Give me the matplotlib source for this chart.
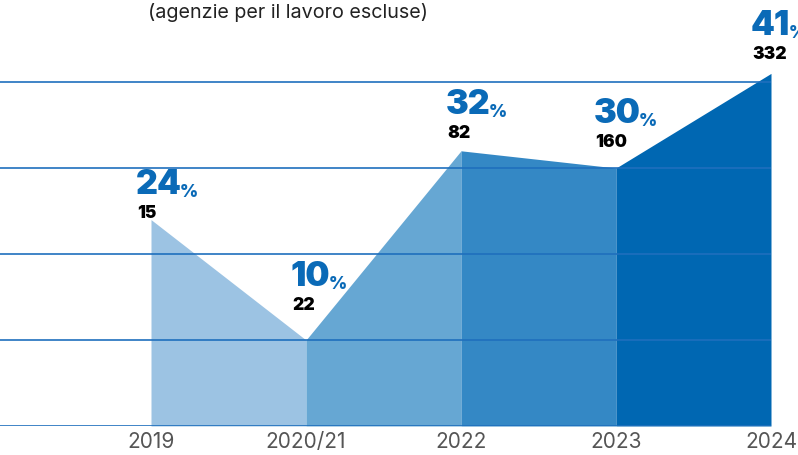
import matplotlib
matplotlib.use("Agg")
import matplotlib.pyplot as plt

# Data
years = ["2019", "2020/21", "2022", "2023", "2024"]
pct = [24, 10, 32, 30, 41]
counts = [15, 22, 82, 160, 332]
grid_levels = [0, 10, 20, 30, 40]

# Style / layout (not data)
seg_colors = ["#9cc3e3", "#66a7d3", "#3488c5", "#0067b2"]
blue_txt = "#0a6ab7"
grid_color = "#1f6fbd"
label_dx = [-14, -14, -14, -21, -19]   # px offset of labels from point
label_dy = [2, 30, 13, 21, 14]         # px baseline of count above point

W, H = 798, 455
fig = plt.figure(figsize=(W / 100, H / 100), dpi=100)
ax = fig.add_axes([0, 29 / H, 1, 426 / H])
px_per_unit = 155.0
x0 = -151 / px_per_unit
ax.set_xlim(x0, x0 + W / px_per_unit)
ax.set_ylim(0, 426 / 8.6)

xs = list(range(len(years)))
for i in range(len(xs) - 1):
    ax.fill_between([xs[i], xs[i + 1]], [pct[i], pct[i + 1]], 0,
                    color=seg_colors[i], linewidth=0, zorder=1)

ax.hlines(grid_levels, x0, xs[-1], color=grid_color, linewidth=1.2, zorder=2)

for s in ax.spines.values():
    s.set_visible(False)
ax.set_yticks([])
ax.set_xticks(xs)
ax.set_xticklabels(years, fontsize=15, color="#555555", family="Inter")
ax.tick_params(axis="x", length=0, pad=4)

p2pt = 72 / 100
for i, x in enumerate(xs):
    dx = label_dx[i] * p2pt
    dy = label_dy[i] * p2pt
    ax.annotate(str(counts[i]), (x, pct[i]), xytext=(dx, dy),
                textcoords="offset points", ha="left", va="baseline",
                fontsize=12.5, fontweight="black", family="Inter", color="black",
                zorder=5)
    t = ax.annotate(str(pct[i]), (x, pct[i]), xytext=(dx - 1, dy + 24 * p2pt),
                    textcoords="offset points", ha="left", va="baseline",
                    fontsize=24.5, fontweight="black", family="Inter", color=blue_txt,
                    zorder=5)
    ax.annotate("%", xy=(1, 0), xycoords=t, xytext=(-1, 0),
                textcoords="offset points", ha="left", va="bottom",
                fontsize=12.5, fontweight="black", family="Inter", color=blue_txt,
                zorder=5)

fig.text(148 / W, 1 - 3 / H, "(agenzie per il lavoro escluse)", ha="left", va="top",
         fontsize=14.2, color="#222222", family="Inter")

fig.savefig("out.png", dpi=100)
